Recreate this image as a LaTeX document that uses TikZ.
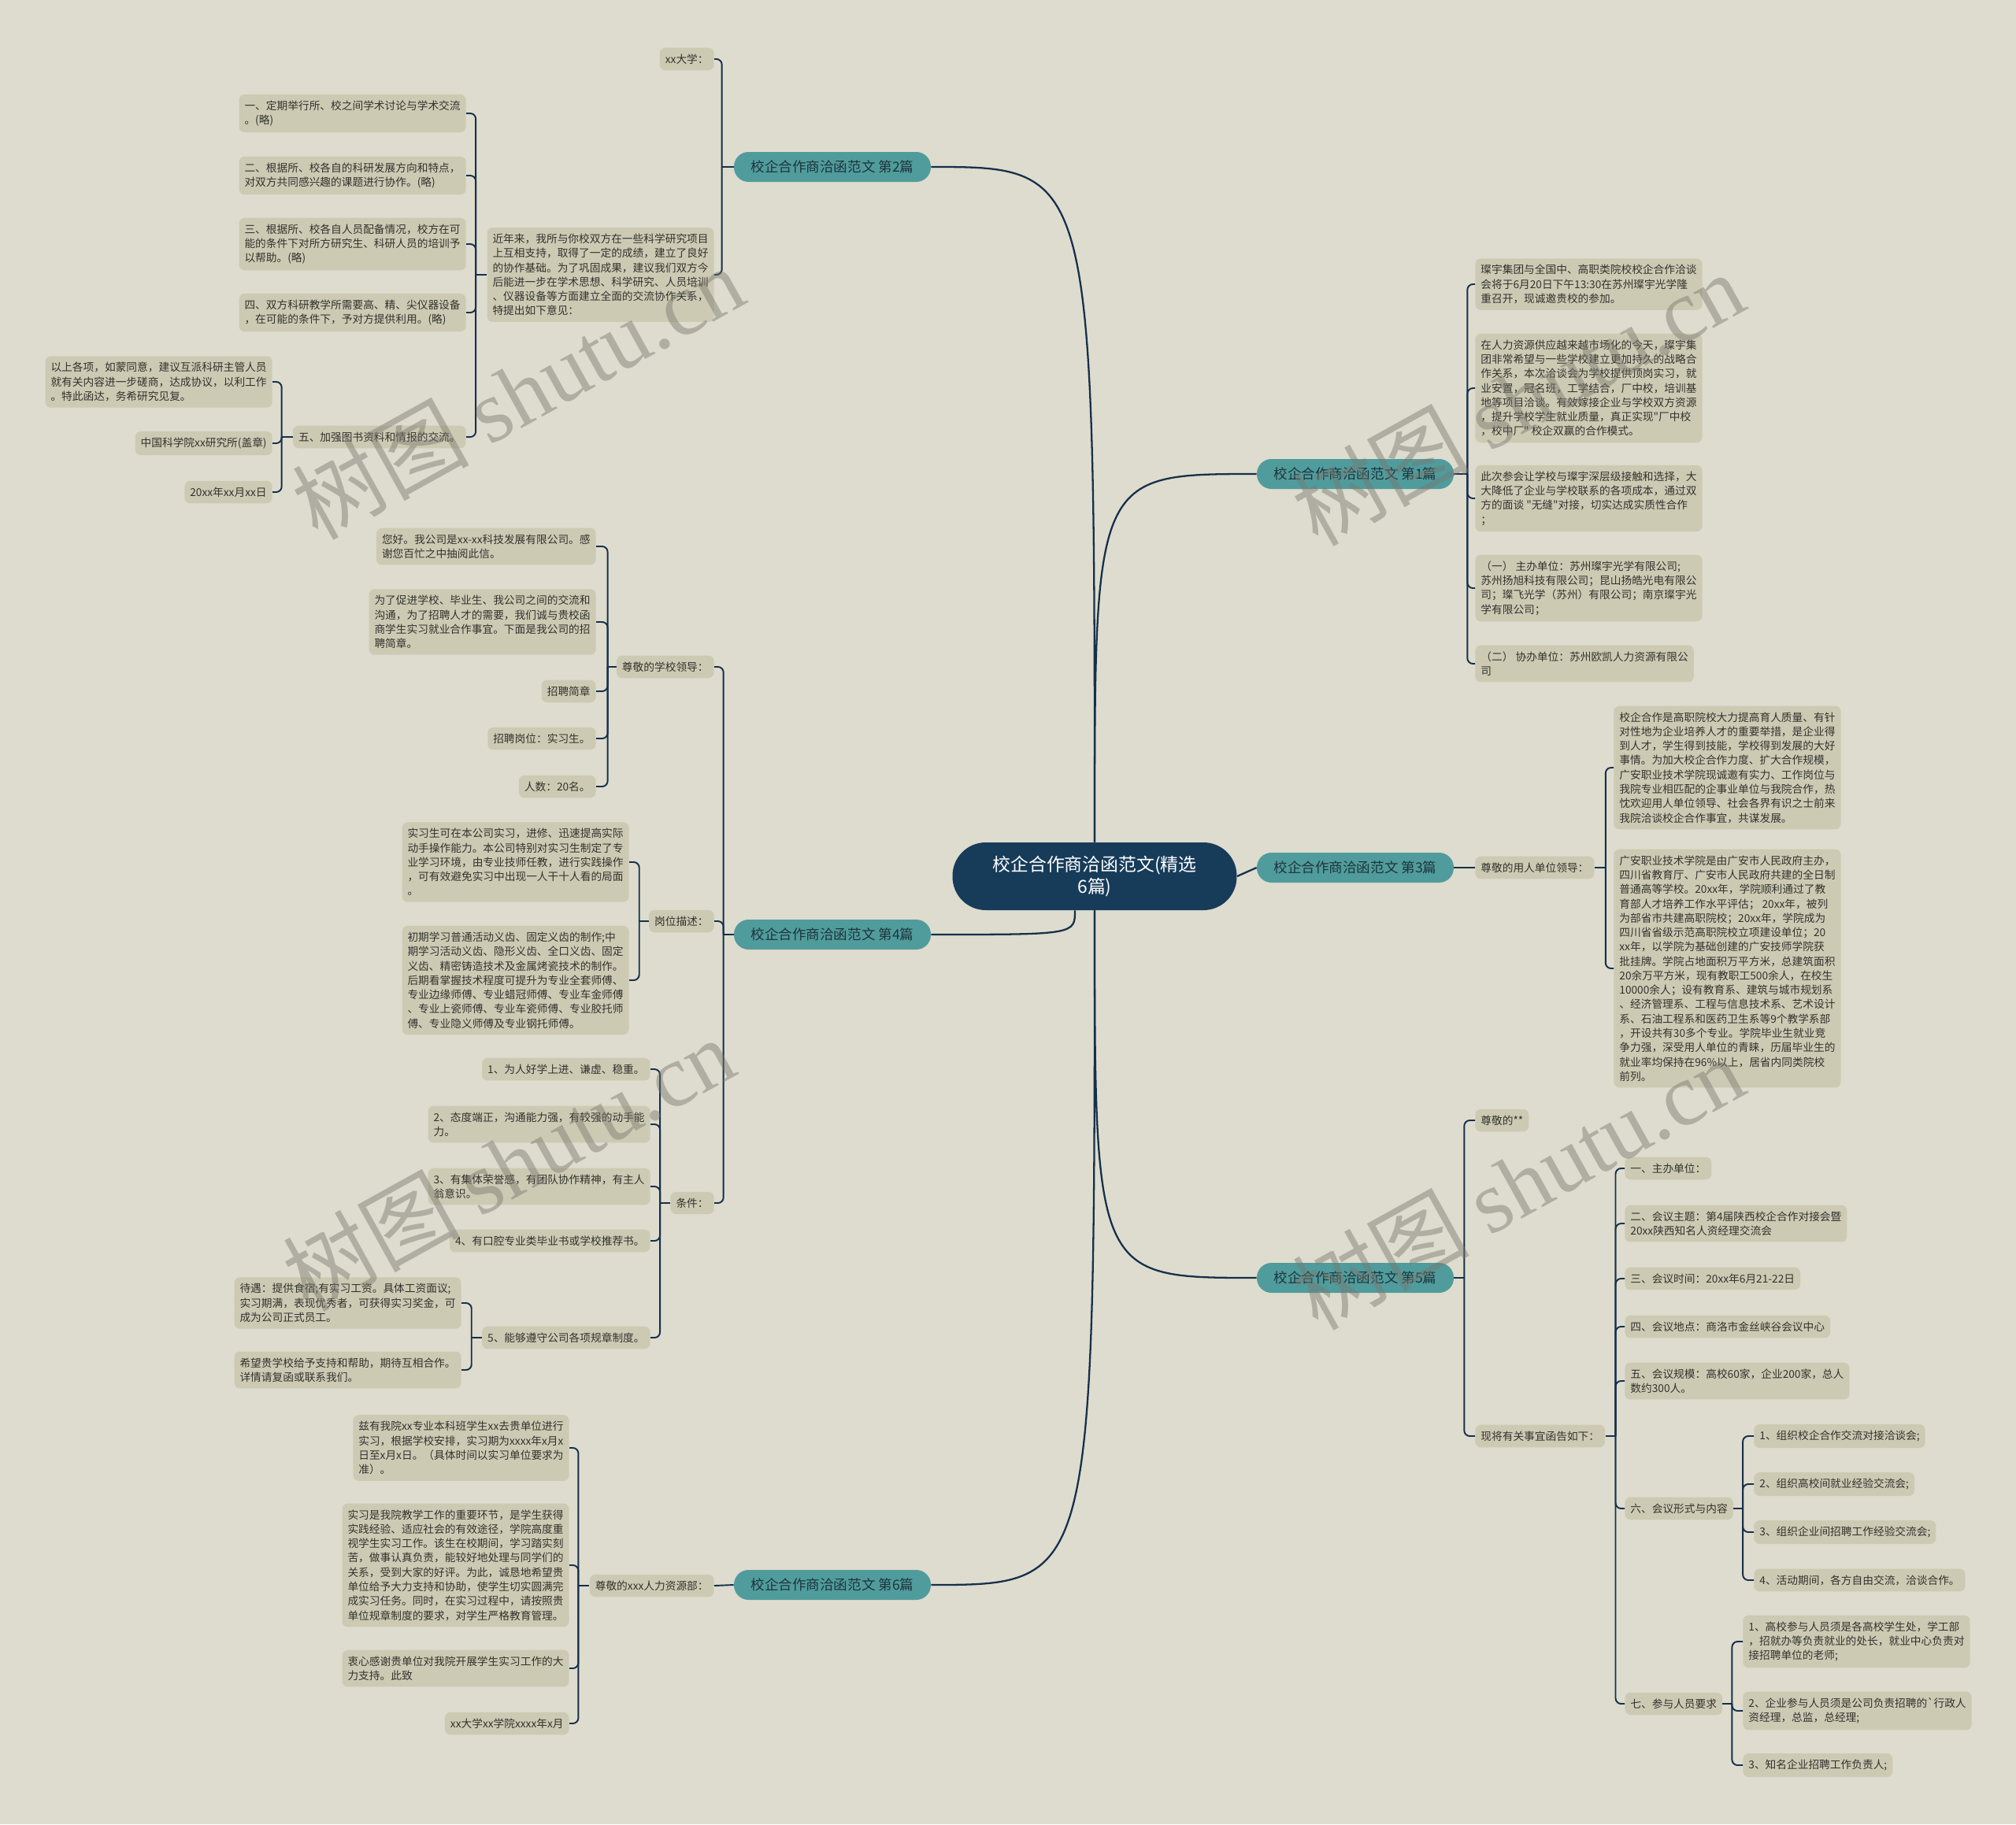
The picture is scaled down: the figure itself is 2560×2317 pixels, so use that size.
\documentclass[tikz,border=0pt]{standalone}
\usepackage{fontspec}
\setmainfont{Noto Sans CJK SC}[Ligatures=TeXOff]
\newfontfamily\wmfont{Liberation Serif}
\usetikzlibrary{calc}

\definecolor{bgc}{RGB}{222,220,206}
\definecolor{leafc}{RGB}{205,202,180}
\definecolor{leaftext}{RGB}{50,50,45}
\definecolor{branchc}{RGB}{80,156,157}
\definecolor{branchtext}{RGB}{30,52,60}
\definecolor{rootc}{RGB}{23,60,90}
\definecolor{linkc}{RGB}{22,48,75}
\definecolor{wmc}{RGB}{120,120,110}

\begin{document}
\begin{tikzpicture}[
    x=0.02cm, y=-0.02cm, % one unit = one pixel of the reference
    root/.style={fill=rootc, text=white, rounded corners=24pt, minimum width=7.22cm, minimum height=1.72cm, align=center, font=\fontsize{13}{16}\selectfont},
    branch/.style={fill=branchc, text=branchtext, rounded corners=10.5pt, minimum width=5cm, minimum height=0.76cm, font=\fontsize{10}{12}\selectfont},
    leaf/.style={fill=leafc, text=leaftext, rounded corners=4pt, inner xsep=4pt, inner ysep=4.5pt, align=left, font=\fontsize{7.8}{10.4}\selectfont},
    trunk/.style={draw=linkc, line width=1.3pt},
    link/.style={draw=linkc, line width=1.1pt, rounded corners=4pt},
    wm/.style={text=wmc, text opacity=0.45, rotate=29, font=\fontsize{64}{70}\selectfont}
]
    \useasboundingbox (0,0) rectangle (2560,2317);
    \fill[bgc] (0,0) rectangle (2560,2317);

    % centre and the six branches
    \node[root] (root) at (1390,1113) {校企合作商洽函范文(精选\\6篇)};
    \node[branch] (b1) at (1721,602) {校企合作商洽函范文 第1篇};
    \node[branch] (b2) at (1057,212) {校企合作商洽函范文 第2篇};
    \node[branch] (b3) at (1721,1102) {校企合作商洽函范文 第3篇};
    \node[branch] (b4) at (1057,1187) {校企合作商洽函范文 第4篇};
    \node[branch] (b5) at (1721,1623) {校企合作商洽函范文 第5篇};
    \node[branch] (b6) at (1057,2013) {校企合作商洽函范文 第6篇};

    % branch 2
    \node[leaf, anchor=east] (b2u) at (907,75) {xx大学：};
    \node[leaf, anchor=east] (b2t) at (907,349) {近年来，我所与你校双方在一些科学研究项目\\上互相支持，取得了一定的成绩，建立了良好\\的协作基础。为了巩固成果，建议我们双方今\\后能进一步在学术思想、科学研究、人员培训\\、仪器设备等方面建立全面的交流协作关系，\\特提出如下意见：};
    \node[leaf, anchor=east] (b2i1) at (592,144) {一、定期举行所、校之间学术讨论与学术交流\\。(略)};
    \node[leaf, anchor=east] (b2i2) at (592,223) {二、根据所、校各自的科研发展方向和特点，\\对双方共同感兴趣的课题进行协作。(略)};
    \node[leaf, anchor=east] (b2i3) at (592,310) {三、根据所、校各自人员配备情况，校方在可\\能的条件下对所方研究生、科研人员的培训予\\以帮助。(略)};
    \node[leaf, anchor=east] (b2i4) at (592,397) {四、双方科研教学所需要高、精、尖仪器设备\\，在可能的条件下，予对方提供利用。(略)};
    \node[leaf, anchor=east] (b2i5) at (592,555) {五、加强图书资料和情报的交流。};
    \node[leaf, anchor=east] (b2e1) at (346,485) {以上各项，如蒙同意，建议互派科研主管人员\\就有关内容进一步磋商，达成协议，以利工作\\。特此函达，务希研究见复。};
    \node[leaf, anchor=east] (b2e2) at (346,563) {中国科学院xx研究所(盖章)};
    \node[leaf, anchor=east] (b2e3) at (346,625) {20xx年xx月xx日};

    % branch 4
    \node[leaf, anchor=east] (b4a) at (907,847) {尊敬的学校领导：};
    \node[leaf, anchor=east] (b4a1) at (757,694) {您好。我公司是xx-xx科技发展有限公司。感\\谢您百忙之中抽阅此信。};
    \node[leaf, anchor=east] (b4a2) at (757,790) {为了促进学校、毕业生、我公司之间的交流和\\沟通，为了招聘人才的需要，我们诚与贵校函\\商学生实习就业合作事宜。下面是我公司的招\\聘简章。};
    \node[leaf, anchor=east] (b4a3) at (757,878) {招聘简章};
    \node[leaf, anchor=east] (b4a4) at (757,938) {招聘岗位：实习生。};
    \node[leaf, anchor=east] (b4a5) at (757,999) {人数：20名。};
    \node[leaf, anchor=east] (b4b) at (907,1170) {岗位描述：};
    \node[leaf, anchor=east] (b4b1) at (799,1095) {实习生可在本公司实习，进修、迅速提高实际\\动手操作能力。本公司特别对实习生制定了专\\业学习环境，由专业技师任教，进行实践操作\\，可有效避免实习中出现一人干十人看的局面\\。};
    \node[leaf, anchor=east] (b4b2) at (799,1245) {初期学习普通活动义齿、固定义齿的制作;中\\期学习活动义齿、隐形义齿、全口义齿、固定\\义齿、精密铸造技术及金属烤瓷技术的制作。\\后期看掌握技术程度可提升为专业全套师傅、\\专业边缘师傅、专业蜡冠师傅、专业车金师傅\\、专业上瓷师傅、专业车瓷师傅、专业胶托师\\傅、专业隐义师傅及专业钢托师傅。};
    \node[leaf, anchor=east] (b4c) at (907,1528) {条件：};
    \node[leaf, anchor=east] (b4c1) at (826,1358) {1、为人好学上进、谦虚、稳重。};
    \node[leaf, anchor=east] (b4c2) at (826,1428) {2、态度端正，沟通能力强，有较强的动手能\\力。};
    \node[leaf, anchor=east] (b4c3) at (826,1507) {3、有集体荣誉感，有团队协作精神，有主人\\翁意识。};
    \node[leaf, anchor=east] (b4c4) at (826,1576) {4、有口腔专业类毕业书或学校推荐书。};
    \node[leaf, anchor=east] (b4c5) at (826,1699) {5、能够遵守公司各项规章制度。};
    \node[leaf, anchor=east] (b4c51) at (586,1655) {待遇：提供食宿;有实习工资。具体工资面议;\\实习期满，表现优秀者，可获得实习奖金，可\\成为公司正式员工。};
    \node[leaf, anchor=east] (b4c52) at (586,1740) {希望贵学校给予支持和帮助，期待互相合作。\\详情请复函或联系我们。};

    % branch 6
    \node[leaf, anchor=east] (b6a) at (907,2014) {尊敬的xxx人力资源部：};
    \node[leaf, anchor=east] (b6a1) at (723,1839) {兹有我院xx专业本科班学生xx去贵单位进行\\实习，根据学校安排，实习期为xxxx年x月x\\日至x月x日。（具体时间以实习单位要求为\\准）。};
    \node[leaf, anchor=east] (b6a2) at (723,1988) {实习是我院教学工作的重要环节，是学生获得\\实践经验、适应社会的有效途径，学院高度重\\视学生实习工作。该生在校期间，学习踏实刻\\苦，做事认真负责，能较好地处理与同学们的\\关系，受到大家的好评。为此，诚恳地希望贵\\单位给予大力支持和协助，使学生切实圆满完\\成实习任务。同时，在实习过程中，请按照贵\\单位规章制度的要求，对学生严格教育管理。};
    \node[leaf, anchor=east] (b6a3) at (723,2119) {衷心感谢贵单位对我院开展学生实习工作的大\\力支持。此致};
    \node[leaf, anchor=east] (b6a4) at (723,2189) {xx大学xx学院xxxx年x月};

    % branch 1
    \node[leaf, anchor=west] (b1a) at (1873,361) {璨宇集团与全国中、高职类院校校企合作洽谈\\会将于6月20日下午13:30在苏州璨宇光学隆\\重召开，现诚邀贵校的参加。};
    \node[leaf, anchor=west] (b1b) at (1873,493) {在人力资源供应越来越市场化的今天，璨宇集\\团非常希望与一些学校建立更加持久的战略合\\作关系，本次洽谈会为学校提供顶岗实习，就\\业安置，冠名班，工学结合，厂中校，培训基\\地等项目洽谈。有效嫁接企业与学校双方资源\\，提升学校学生就业质量，真正实现"厂中校\\，校中厂" 校企双赢的合作模式。};
    \node[leaf, anchor=west] (b1c) at (1873,633) {此次参会让学校与璨宇深层级接触和选择，大\\大降低了企业与学校联系的各项成本，通过双\\方的面谈 "无缝"对接，切实达成实质性合作\\；};
    \node[leaf, anchor=west] (b1d) at (1873,747) {（一） 主办单位：苏州璨宇光学有限公司;\\苏州扬旭科技有限公司；昆山扬皓光电有限公\\司；璨飞光学（苏州）有限公司；南京璨宇光\\学有限公司；};
    \node[leaf, anchor=west] (b1e) at (1873,843) {（二） 协办单位：苏州欧凯人力资源有限公\\司};

    % branch 3
    \node[leaf, anchor=west] (b3a) at (1873,1102) {尊敬的用人单位领导：};
    \node[leaf, anchor=west] (b3a1) at (2049,975) {校企合作是高职院校大力提高育人质量、有针\\对性地为企业培养人才的重要举措，是企业得\\到人才，学生得到技能，学校得到发展的大好\\事情。为加大校企合作力度、扩大合作规模，\\广安职业技术学院现诚邀有实力、工作岗位与\\我院专业相匹配的企事业单位与我院合作，热\\忱欢迎用人单位领导、社会各界有识之士前来\\我院洽谈校企合作事宜，共谋发展。};
    \node[leaf, anchor=west] (b3a2) at (2049,1230) {广安职业技术学院是由广安市人民政府主办，\\四川省教育厅、广安市人民政府共建的全日制\\普通高等学校。20xx年，学院顺利通过了教\\育部人才培养工作水平评估； 20xx年，被列\\为部省市共建高职院校；20xx年，学院成为\\四川省省级示范高职院校立项建设单位；20\\xx年，以学院为基础创建的广安技师学院获\\批挂牌。学院占地面积万平方米，总建筑面积\\20余万平方米，现有教职工500余人，在校生\\10000余人；设有教育系、建筑与城市规划系\\、经济管理系、工程与信息技术系、艺术设计\\系、石油工程系和医药卫生系等9个教学系部\\，开设共有30多个专业。学院毕业生就业竞\\争力强，深受用人单位的青睐，历届毕业生的\\就业率均保持在96\%以上，居省内同类院校\\前列。};

    % branch 5
    \node[leaf, anchor=west] (b5a) at (1873,1423) {尊敬的**};
    \node[leaf, anchor=west] (b5b) at (1873,1824) {现将有关事宜函告如下：};
    \node[leaf, anchor=west] (b5b1) at (2063,1484) {一、主办单位：};
    \node[leaf, anchor=west] (b5b2) at (2063,1554) {二、会议主题：第4届陕西校企合作对接会暨\\20xx陕西知名人资经理交流会};
    \node[leaf, anchor=west] (b5b3) at (2063,1624) {三、会议时间：20xx年6月21-22日};
    \node[leaf, anchor=west] (b5b4) at (2063,1685) {四、会议地点：商洛市金丝峡谷会议中心};
    \node[leaf, anchor=west] (b5b5) at (2063,1754) {五、会议规模：高校60家，企业200家，总人\\数约300人。};
    \node[leaf, anchor=west] (b5b6) at (2063,1916) {六、会议形式与内容};
    \node[leaf, anchor=west] (b5b61) at (2227,1824) {1、组织校企合作交流对接洽谈会;};
    \node[leaf, anchor=west] (b5b62) at (2227,1885) {2、组织高校间就业经验交流会;};
    \node[leaf, anchor=west] (b5b63) at (2227,1946) {3、组织企业间招聘工作经验交流会;};
    \node[leaf, anchor=west] (b5b64) at (2227,2007) {4、活动期间，各方自由交流，洽谈合作。};
    \node[leaf, anchor=west] (b5b7) at (2063,2164) {七、参与人员要求};
    \node[leaf, anchor=west] (b5b71) at (2213,2085) {1、高校参与人员须是各高校学生处，学工部\\，招就办等负责就业的处长，就业中心负责对\\接招聘单位的老师;};
    \node[leaf, anchor=west] (b5b72) at (2213,2173) {2、企业参与人员须是公司负责招聘的`行政人\\资经理，总监，总经理;};
    \node[leaf, anchor=west] (b5b73) at (2213,2242) {3、知名企业招聘工作负责人;};

    % centre to branches
    \coordinate (r4) at ([xshift=-0.5cm]root.south);
    \path[trunk] (root.north) .. controls (root.north |- b2.east) .. (b2.east);
    \path[trunk] (root.north) .. controls (root.north |- b1.west) .. (b1.west);
    \path[trunk] (root.east) -- (b3.west);
    \path[trunk] (r4) .. controls (r4 |- b4.east) .. (b4.east);
    \path[trunk] (root.south) .. controls (root.south |- b5.west) .. (b5.west);
    \path[trunk] (root.south) .. controls (root.south |- b6.east) .. (b6.east);

    % junctions of the brackets
    \coordinate (j2) at ($(b2.west)+(-15,0)$);
    \coordinate (j2t) at ($(b2t.west)+(-14,0)$);
    \coordinate (j2i5) at ($(b2i5.west)+(-14,0)$);
    \coordinate (j4) at ($(b4.west)+(-13,0)$);
    \coordinate (j4a) at ($(b4a.west)+(-11,0)$);
    \coordinate (j4b) at ($(b4b.west)+(-12,0)$);
    \coordinate (j4c) at ($(b4c.west)+(-13,0)$);
    \coordinate (j4c5) at ($(b4c5.west)+(-13,0)$);
    \coordinate (j6a) at ($(b6a.west)+(-14,0)$);
    \coordinate (j1) at ($(b1.east)+(17,0)$);
    \coordinate (j3a) at ($(b3a.east)+(14,0)$);
    \coordinate (j5) at ($(b5.east)+(13,0)$);
    \coordinate (j5b) at ($(b5b.east)+(13,0)$);
    \coordinate (j5b6) at ($(b5b6.east)+(12,0)$);
    \coordinate (j5b7) at ($(b5b7.east)+(12,0)$);

    % branch 2 links
    \path[link] (b2.west) -- (j2);
    \path[link] (j2) |- (b2u.east);
    \path[link] (j2) |- (b2t.east);
    \path[link] (b2t.west) -- (j2t);
    \path[link] (j2t) |- (b2i1.east);
    \path[link] (j2t) |- (b2i2.east);
    \path[link] (j2t) |- (b2i3.east);
    \path[link] (j2t) |- (b2i4.east);
    \path[link] (j2t) |- (b2i5.east);
    \path[link] (b2i5.west) -- (j2i5);
    \path[link] (j2i5) |- (b2e1.east);
    \path[link] (j2i5) |- (b2e2.east);
    \path[link] (j2i5) |- (b2e3.east);

    % branch 4 links
    \path[link] (b4.west) -- (j4);
    \path[link] (j4) |- (b4a.east);
    \path[link] (j4) |- (b4b.east);
    \path[link] (j4) |- (b4c.east);
    \path[link] (b4a.west) -- (j4a);
    \path[link] (j4a) |- (b4a1.east);
    \path[link] (j4a) |- (b4a2.east);
    \path[link] (j4a) |- (b4a3.east);
    \path[link] (j4a) |- (b4a4.east);
    \path[link] (j4a) |- (b4a5.east);
    \path[link] (b4b.west) -- (j4b);
    \path[link] (j4b) |- (b4b1.east);
    \path[link] (j4b) |- (b4b2.east);
    \path[link] (b4c.west) -- (j4c);
    \path[link] (j4c) |- (b4c1.east);
    \path[link] (j4c) |- (b4c2.east);
    \path[link] (j4c) |- (b4c3.east);
    \path[link] (j4c) |- (b4c4.east);
    \path[link] (j4c) |- (b4c5.east);
    \path[link] (b4c5.west) -- (j4c5);
    \path[link] (j4c5) |- (b4c51.east);
    \path[link] (j4c5) |- (b4c52.east);

    % branch 6 links
    \path[link] (b6.west) -- (b6a.east);
    \path[link] (b6a.west) -- (j6a);
    \path[link] (j6a) |- (b6a1.east);
    \path[link] (j6a) |- (b6a2.east);
    \path[link] (j6a) |- (b6a3.east);
    \path[link] (j6a) |- (b6a4.east);

    % branch 1 links
    \path[link] (b1.east) -- (j1);
    \path[link] (j1) |- (b1a.west);
    \path[link] (j1) |- (b1b.west);
    \path[link] (j1) |- (b1c.west);
    \path[link] (j1) |- (b1d.west);
    \path[link] (j1) |- (b1e.west);

    % branch 3 links
    \path[link] (b3.east) -- (b3a.west);
    \path[link] (b3a.east) -- (j3a);
    \path[link] (j3a) |- (b3a1.west);
    \path[link] (j3a) |- (b3a2.west);

    % branch 5 links
    \path[link] (b5.east) -- (j5);
    \path[link] (j5) |- (b5a.west);
    \path[link] (j5) |- (b5b.west);
    \path[link] (b5b.east) -- (j5b);
    \path[link] (j5b) |- (b5b1.west);
    \path[link] (j5b) |- (b5b2.west);
    \path[link] (j5b) |- (b5b3.west);
    \path[link] (j5b) |- (b5b4.west);
    \path[link] (j5b) |- (b5b5.west);
    \path[link] (j5b) |- (b5b6.west);
    \path[link] (j5b) |- (b5b7.west);
    \path[link] (b5b6.east) -- (j5b6);
    \path[link] (j5b6) |- (b5b61.west);
    \path[link] (j5b6) |- (b5b62.west);
    \path[link] (j5b6) |- (b5b63.west);
    \path[link] (j5b6) |- (b5b64.west);
    \path[link] (b5b7.east) -- (j5b7);
    \path[link] (j5b7) |- (b5b71.west);
    \path[link] (j5b7) |- (b5b72.west);
    \path[link] (j5b7) |- (b5b73.west);

    % watermarks
    \node[wm] (wm1) at (657,498) {树图 {\wmfont shutu.cn}};
    \node[wm] (wm2) at (1927,506) {树图 {\wmfont shutu.cn}};
    \node[wm] (wm3) at (645,1478) {树图 {\wmfont shutu.cn}};
    \node[wm] (wm4) at (1927,1502) {树图 {\wmfont shutu.cn}};
\end{tikzpicture}
\end{document}
